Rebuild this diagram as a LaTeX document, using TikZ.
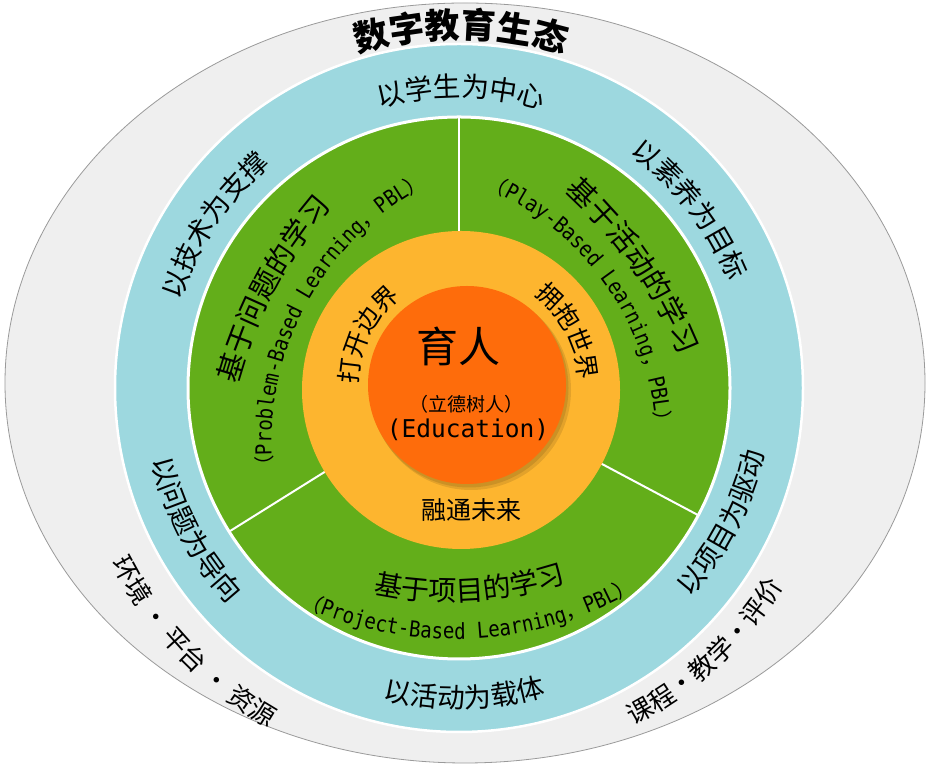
\documentclass[tikz,border=0pt]{standalone}
\usepackage{fontspec}
\setmainfont{Noto Sans CJK SC}
\newfontfamily\cjk{Noto Sans CJK SC}
\newfontfamily\mono{DejaVu Sans Mono}
\newfontfamily\monon[FakeStretch=0.87]{DejaVu Sans Mono}
\usetikzlibrary{decorations.text}
\definecolor{grayfill}{HTML}{EFEFEF}
\definecolor{grayedge}{HTML}{9A9A9A}
\definecolor{bluefill}{HTML}{9DD8DF}
\definecolor{greenfill}{HTML}{63AE1A}
\definecolor{yellowfill}{HTML}{FDB52F}
\definecolor{orangefill}{HTML}{FE6C0B}
\newcommand\engf{\fontsize{22}{25}\selectfont\monon}
\newcommand\engc{\fontsize{20.5}{24}\selectfont\cjk}
% #1 centre, #2 mid angle, #3 baseline distance, #4 curvature radius, #5 half span, #6 format, #7 text
\newcommand\cwtext[7]{%
  \pgfmathsetmacro\tA{#2+#5}\pgfmathsetmacro\tB{#2-#5}\pgfmathsetmacro\tS{#3-#4}%
  \path[shift={(#1)},shift={(#2:\tS)},decorate,
    decoration={text along path,text align=center,text={|#6|#7}}]
    (\tA:#4) arc[start angle=\tA,end angle=\tB,radius=#4pt];}
\newcommand\ccwtext[7]{%
  \pgfmathsetmacro\tA{#2-#5}\pgfmathsetmacro\tB{#2+#5}\pgfmathsetmacro\tS{#3-#4}%
  \path[shift={(#1)},shift={(#2:\tS)},decorate,
    decoration={text along path,text align=center,text={|#6|#7}}]
    (\tA:#4) arc[start angle=\tA,end angle=\tB,radius=#4pt];}
\tikzset{
  ring/.style={draw=white,line width=#1},
  divider/.style={draw=white,line width=2pt},
  centertext/.style={inner sep=0pt,font=\cjk}
}
\begin{document}
\begin{tikzpicture}[x=1pt,y=1pt]
\useasboundingbox (0,0) rectangle (934,767);
\fill[white] (0,0) rectangle (934,767);
\coordinate (C) at (459,379);
\coordinate (O) at (467,382);
\coordinate (Y) at (461,377);
\coordinate (E) at (465,384);
% rings
\fill[grayfill,draw=grayedge,line width=0.8pt] (E) ellipse[x radius=460pt,y radius=380pt];
\fill[bluefill,ring=2.5pt] (C) circle[radius=344pt];
\fill[greenfill,ring=3pt] (C) circle[radius=271pt];
\foreach \a in {90,212,332} \draw[divider,shift={(C)}] (\a:140) -- (\a:270);
\fill[yellowfill] (Y) circle[radius=159pt];
\fill[black,opacity=0.10,shift={(O)}] (4,-5) circle[radius=100pt];
\fill[black,opacity=0.10,shift={(O)}] (2,-3) circle[radius=99.5pt];
\fill[orangefill] (O) circle[radius=99pt];
% gray ring texts
\cwtext{C}{89.7}{350}{350}{40}{\fontsize{35}{38}\selectfont\cjk\bfseries}{数字教育生态}
\ccwtext{C}{223.7}{389}{389}{35}{\fontsize{26}{28}\selectfont\cjk}{环境 ・ 平台 ・ 资源}
\ccwtext{C}{313}{380}{380}{35}{\fontsize{26}{28}\selectfont\cjk}{课程・教学・评价}
% blue ring texts
\cwtext{C}{89.6}{291}{291}{40}{\fontsize{27.5}{30}\selectfont\cjk}{以学生为中心}
\cwtext{C}{146.3}{292}{292}{40}{\fontsize{27.5}{30}\selectfont\cjk}{以技术为支撑}
\cwtext{C}{37.7}{290}{290}{40}{\fontsize{27.5}{30}\selectfont\cjk}{以素养为目标}
\ccwtext{C}{208.2}{316}{316}{40}{\fontsize{27.5}{30}\selectfont\cjk}{以问题为导向}
\ccwtext{C}{332.9}{312}{312}{40}{\fontsize{27.5}{30}\selectfont\cjk}{以项目为驱动}
\ccwtext{C}{271}{320}{320}{40}{\fontsize{27.5}{30}\selectfont\cjk}{以活动为载体}
% green ring texts
\cwtext{C}{152}{209}{450}{30}{\fontsize{29}{31}\selectfont\cjk}{基于问题的学习}
\cwtext{C}{35}{211}{450}{30}{\fontsize{29}{31}\selectfont\cjk}{基于活动的学习}
\cwtext{C}{152}{174}{290}{50}{\engc}{（|\engf|Problem-Based Learning|\engc|，|\engf|PBL|\engc|）}
\cwtext{C}{35}{179}{280}{50}{\engc}{（|\engf|Play-Based Learning|\engc|，|\engf|PBL|\engc|）}
\ccwtext{C}{273.1}{213}{369}{35}{\fontsize{28}{30}\selectfont\cjk}{基于项目的学习}
\ccwtext{C}{272.6}{251}{364}{40}{\engc}{（|\engf|Project-Based Learning|\engc|，|\engf|PBL|\engc|）}
% yellow ring texts
\cwtext{O}{153.5}{109}{109}{60}{\fontsize{25}{27}\selectfont\cjk}{打开边界}
\cwtext{O}{27.8}{112}{112}{60}{\fontsize{25}{27}\selectfont\cjk}{拥抱世界}
\node[centertext,font=\fontsize{25}{27}\selectfont\cjk] (future) at (471,257) {融通未来};
% centre texts
\node[centertext,font=\fontsize{42}{44}\selectfont\cjk] (yuren) at (458.5,421) {育人};
\node[centertext,font=\fontsize{19}{21}\selectfont\cjk] (lide) at (466,363) {（立德树人）};
\node[centertext,font=\fontsize{24.5}{26}\selectfont\mono] (edu) at (468,337) {(Education)};
\end{tikzpicture}
\end{document}
